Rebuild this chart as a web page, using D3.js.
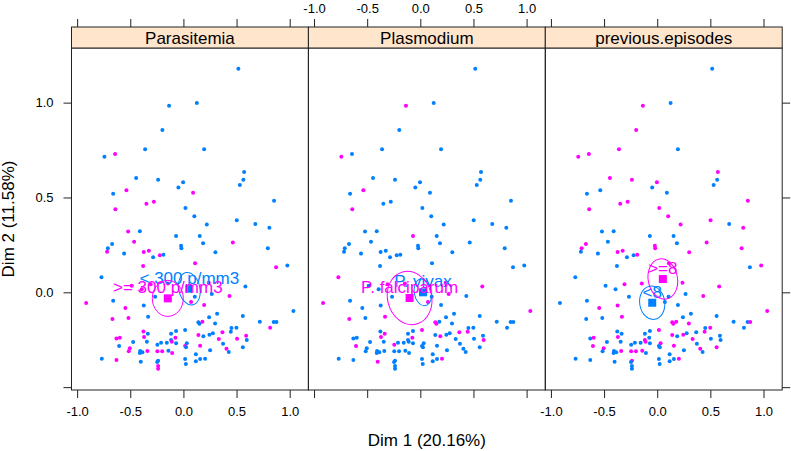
<!DOCTYPE html>
<html>
<head>
<meta charset="utf-8">
<script src="https://cdn.jsdelivr.net/npm/d3@7"></script>
<style>
  body { margin: 0; background: #fff; }
  svg text { font-family: "Liberation Sans", Arial, Helvetica, sans-serif; }
</style>
</head>
<body>
<div id="chart"></div>
<script>
// individual coordinates on the first two dimensions
const dim1 = [
  0.517, -0.135, 0.126, -0.198, -0.360, 0.195, -0.743, -0.643, -0.445, -0.238,
  -0.047, -0.003, 0.571, 0.564, 0.531, -0.661, -0.536, 0.091, 0.853, -0.640,
  -0.348, -0.278, 0.019, 0.103, 0.220, 0.502, 0.677, 0.809, -0.520, -0.410,
  -0.069, 0.154, -0.464, -0.671, -0.711, -0.718, -0.558, -0.373, -0.325, -0.285,
  -0.222, -0.188, -0.022, -0.019, 0.185, 0.301, 0.465, 0.794, -0.379, 0.110,
  0.872, 0.978, -0.771, 0.583, 0.267, 0.433, 0.107, -0.266,
  -0.915, -0.661, 0.072, 0.195, -0.546, -0.373, 1.035, -0.668, -0.517, -0.332,
  0.242, 0.317, 0.559, 0.719, 0.850, 0.875, 0.141, 0.151, 0.179, 0.298,
  0.816, 0.452, 0.499, 0.446, -0.376, -0.335, -0.370, -0.630, -0.598, -0.069,
  0.016, -0.116, 0.141, 0.188, 0.245, 0.277, 0.367, 0.333, 0.505, 0.590,
  0.596, -0.473, -0.344, -0.210, -0.245, -0.156, -0.116, -0.109, -0.075, -0.069,
  -0.605, -0.504, -0.514, 0.032, 0.016, 0.025, 0.157, 0.373, 0.405, 0.427,
  0.559, -0.407, -0.386, -0.410, -0.339, -0.245, -0.200, -0.141, -0.106, 0.251,
  -0.768, -0.630, -0.401, -0.238, -0.247, 0.016, 0.023, 0.117, 0.117, 0.157,
  0.204, -0.238, -0.238, -0.486, -0.392, -0.308, -0.145, 0.238
];
const dim2 = [
  1.178, 0.983, 0.998, 0.856, 0.754, 0.754, 0.715, 0.729, 0.603, 0.594,
  0.552, 0.580, 0.634, 0.594, 0.566, 0.520, 0.538, 0.525, 0.483, 0.438,
  0.467, 0.478, 0.445, 0.401, 0.357, 0.380, 0.360, 0.341, 0.320, 0.322,
  0.297, 0.297, 0.267, 0.255, 0.232, 0.214, 0.204, 0.213, 0.219, 0.185,
  0.195, 0.198, 0.246, 0.232, 0.258, 0.211, 0.262, 0.232, 0.139, 0.153,
  0.132, 0.142, 0.079, 0.030, -0.009, -0.020, -0.023, -0.023,
  -0.056, -0.044, -0.051, -0.067, -0.083, -0.069, -0.099, -0.141, -0.136, -0.129,
  -0.132, -0.113, -0.125, -0.155, -0.157, -0.157, -0.158, -0.166, -0.155, -0.164,
  -0.187, -0.188, -0.187, -0.208, -0.206, -0.218, -0.236, -0.243, -0.239, -0.204,
  -0.199, -0.218, -0.225, -0.232, -0.224, -0.216, -0.211, -0.246, -0.245, -0.229,
  -0.252, -0.262, -0.261, -0.266, -0.276, -0.266, -0.252, -0.261, -0.239, -0.269,
  -0.283, -0.295, -0.311, -0.269, -0.283, -0.290, -0.282, -0.271, -0.297, -0.315,
  -0.289, -0.310, -0.316, -0.320, -0.310, -0.311, -0.311, -0.308, -0.320, -0.306,
  -0.350, -0.357, -0.366, -0.361, -0.368, -0.352, -0.378, -0.327, -0.364, -0.352,
  -0.350, -0.389, -0.403, 0.035, 0.016, 0.042, 0.047, 0.051
];

// level index of each individual for the three supplementary variables
const parasitemia = [
  0,0,0,0,0,0,0,1,0,0, 0,0,0,0,0,0,1,1,0,1, 1,1,0,0,0,0,0,0,1,0,
  0,0,1,0,0,1,0,1,1,0, 1,0,0,0,0,0,1,0,1,1, 1,0,0,0,0,1,0,0,
  1,0,1,1,1,0,0,1,1,0, 0,0,0,0,0,0,0,0,1,0, 1,0,0,0,1,0,1,1,1,0,
  0,0,1,0,0,0,1,1,1,1, 0,0,0,0,0,0,0,1,1,0, 0,1,1,0,1,0,1,0,1,0,
  0,0,0,0,1,1,1,0,1,0, 0,1,0,0,0,0,0,0,0,0, 0,1,1,1,1,1,1,1
];
const plasmodium = [
  0,1,0,0,0,0,1,0,0,0, 0,0,0,0,0,0,1,0,0,1, 0,0,0,0,0,0,0,0,0,0,
  1,0,0,0,0,0,0,0,0,0, 0,0,0,0,0,0,0,0,0,0, 0,0,1,1,1,0,0,0,
  1,0,1,0,0,0,1,1,0,1, 0,0,0,0,0,0,1,1,0,0, 0,0,0,1,0,1,1,0,0,0,
  1,0,0,1,0,0,1,0,0,0, 1,0,0,0,1,0,0,0,1,0, 1,0,0,0,0,0,0,0,0,0,
  0,0,0,0,0,0,0,0,0,0, 0,0,1,0,0,0,0,0,0,0, 1,0,0,0,0,1,1,1
];
const previousEpisodes = [
  0,1,0,1,1,0,1,1,1,1, 0,1,1,0,0,0,0,0,1,1, 1,1,1,1,1,1,0,1,0,0,
  0,0,0,1,1,0,0,1,1,0, 0,1,1,1,0,1,1,1,0,1, 0,1,0,1,0,1,0,0,
  0,0,0,0,1,1,1,0,0,1, 0,0,0,0,0,1,1,1,1,1, 0,0,1,1,0,0,1,0,1,0,
  1,0,1,0,1,0,0,1,0,0, 0,0,0,0,0,0,1,1,0,0, 1,1,0,1,0,0,1,0,1,0,
  1,0,0,0,1,1,1,1,0,0, 0,0,0,1,0,0,0,0,0,0, 1,0,0,0,0,1,1,1
];

const panelNames = ["Parasitemia", "Plasmodium", "previous.episodes"];
const parasitemiaLevels = ["< 300 p/mm3", ">= 300 p/mm3"];
const plasmodiumLevels = ["P. vivax", "P. falciparum"];
const previousLevels = ["<8", ">=8"];

// category points (dim1, dim2) and confidence ellipses (semi-axis 1, semi-axis 2, angle)
const parasitemiaMeans = [[0.056, 0.019], [-0.147, -0.032]];
const parasitemiaEllipses = [[0.099, 0.087, -12], [0.146, 0.095, 0]];
const plasmodiumMeans = [[0.025, 0.000], [-0.101, -0.030]];
const plasmodiumEllipses = [[0.082, 0.071, -10], [0.207, 0.142, -15]];
const previousMeans = [[-0.047, -0.055], [0.053, 0.070]];
const previousEllipses = [[0.118, 0.088, -8], [0.138, 0.107, -10]];

const xTicks = [-1, -0.5, 0, 0.5, 1];
const yTicks = [-0.5, 0, 0.5, 1];
const xTitle = "Dim 1 (20.16%)";
const yTitle = "Dim 2 (11.58%)";

const groupColors = ["#0080ff", "#ff00ff"];

(function () {
  const panels = [
    { name: panelNames[0], codes: parasitemia, levels: parasitemiaLevels, means: parasitemiaMeans, ell: parasitemiaEllipses },
    { name: panelNames[1], codes: plasmodium, levels: plasmodiumLevels, means: plasmodiumMeans, ell: plasmodiumEllipses },
    { name: panelNames[2], codes: previousEpisodes, levels: previousLevels, means: previousMeans, ell: previousEllipses }
  ];

  const width = 791, height = 451;
  const left0 = 71.5, panelW = 236.9;
  const plotTop = 48, plotBottom = 390, stripH = 21;
  const tickLen = 8;

  const svg = d3.select("#chart").append("svg")
    .attr("width", width)
    .attr("height", height);

  const x = d3.scaleLinear().domain([-1.053, 1.176]).range([0, panelW]);
  const y = d3.scaleLinear().domain([-0.515, 1.288]).range([plotBottom, plotTop]);
  const fmt = d => d.toFixed(1);

  panels.forEach((p, i) => {
    const g = svg.append("g").attr("transform", `translate(${left0 + i * panelW},0)`);

    // points
    g.selectAll("circle.pt")
      .data(dim1.map((d, k) => ({ x: d, y: dim2[k], c: p.codes[k] })))
      .enter().append("circle")
      .attr("class", "pt")
      .attr("cx", d => x(d.x))
      .attr("cy", d => y(d.y))
      .attr("r", 2)
      .attr("fill", d => groupColors[d.c]);

    // ellipses around category points
    p.means.forEach((m, j) => {
      const cx = x(m[0]), cy = y(m[1]);
      const e = p.ell[j];
      g.append("ellipse")
        .attr("cx", cx).attr("cy", cy)
        .attr("rx", x(e[0]) - x(0))
        .attr("ry", y(0) - y(e[1]))
        .attr("transform", `rotate(${e[2]},${cx},${cy})`)
        .attr("fill", "none")
        .attr("stroke", groupColors[j])
        .attr("stroke-width", 1);
      g.append("rect")
        .attr("x", cx - 4).attr("y", cy - 4)
        .attr("width", 8).attr("height", 8)
        .attr("fill", groupColors[j]);
      g.append("text")
        .attr("x", cx).attr("y", cy - 5)
        .attr("text-anchor", "middle")
        .style("font-size", "17px")
        .attr("fill", groupColors[j])
        .text(p.levels[j]);
    });

    // panel box
    g.append("rect")
      .attr("x", 0).attr("y", plotTop)
      .attr("width", panelW).attr("height", plotBottom - plotTop)
      .attr("fill", "none").attr("stroke", "#222");

    // strip
    g.append("rect")
      .attr("x", 0).attr("y", plotTop - stripH)
      .attr("width", panelW).attr("height", stripH)
      .attr("fill", "#ffe5cc").attr("stroke", "#222");
    g.append("text")
      .attr("x", panelW / 2).attr("y", plotTop - stripH / 2)
      .attr("dy", "0.36em")
      .attr("text-anchor", "middle")
      .style("font-size", "17px")
      .attr("fill", "#000")
      .text(p.name);

    // bottom axis: labels on panels 1 and 3
    const bx = g.append("g").attr("transform", `translate(0,${plotBottom})`)
      .call(d3.axisBottom(x).tickValues(xTicks).tickSize(tickLen).tickPadding(9)
        .tickFormat(i === 1 ? () => "" : fmt));
    // top axis: labels on panel 2
    const tx = g.append("g").attr("transform", `translate(0,${plotTop - stripH})`)
      .call(d3.axisTop(x).tickValues(xTicks).tickSize(tickLen).tickPadding(6)
        .tickFormat(i === 1 ? fmt : () => ""));
    [bx, tx].forEach(a => {
      a.select(".domain").remove();
      a.selectAll("line").attr("stroke", "#222");
      a.selectAll("text").style("font-size", "13px").attr("fill", "#000");
    });
  });

  // left and right y axes
  const ly = svg.append("g").attr("transform", `translate(${left0},0)`)
    .call(d3.axisLeft(y).tickValues(yTicks).tickSize(tickLen).tickPadding(10)
      .tickFormat(d => d < 0 ? "" : fmt(d)));
  const ry = svg.append("g").attr("transform", `translate(${left0 + 3 * panelW},0)`)
    .call(d3.axisRight(y).tickValues(yTicks).tickSize(tickLen).tickFormat(() => ""));
  [ly, ry].forEach(a => {
    a.select(".domain").remove();
    a.selectAll("line").attr("stroke", "#222");
    a.selectAll("text").style("font-size", "13px").attr("fill", "#000");
  });

  // axis titles
  svg.append("text")
    .attr("x", left0 + 1.5 * panelW).attr("y", 446)
    .attr("text-anchor", "middle")
    .style("font-size", "17px")
    .text(xTitle);

  svg.append("text")
    .attr("transform", `translate(14,${(plotTop + plotBottom) / 2}) rotate(-90)`)
    .attr("text-anchor", "middle")
    .style("font-size", "17px")
    .text(yTitle);
})();
</script>
</body>
</html>
